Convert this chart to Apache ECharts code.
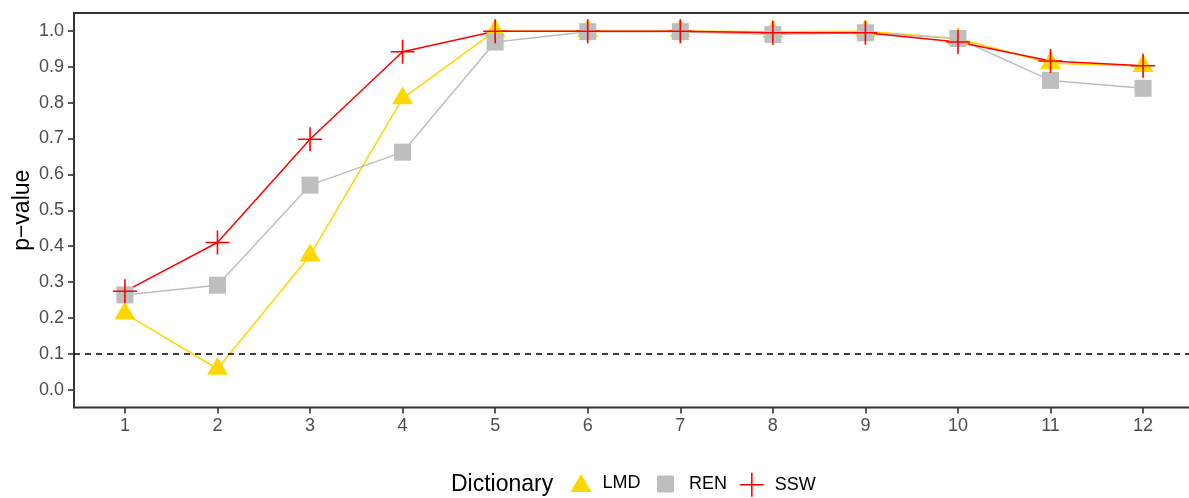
<!DOCTYPE html>
<html>
<head>
<meta charset="utf-8">
<script src="https://cdn.jsdelivr.net/npm/echarts@6/dist/echarts.min.js"></script>
<style>
  html, body { margin: 0; padding: 0; background: #ffffff; }
  #chart { width: 1189px; height: 498px; }
</style>
</head>
<body>
<div id="chart"></div>
<script>
// Number of dictionary words used (x positions)
const steps = [1, 2, 3, 4, 5, 6, 7, 8, 9, 10, 11, 12];

// p-values per dictionary
const lmd = [0.212, 0.058, 0.374, 0.812, 1.000, 1.000, 1.000, 0.998, 0.999, 0.979, 0.910, 0.902];
const ren = [0.264, 0.291, 0.570, 0.662, 0.969, 0.998, 0.998, 0.990, 0.995, 0.979, 0.862, 0.840];
const ssw = [0.274, 0.410, 0.698, 0.942, 0.999, 0.999, 0.999, 0.995, 0.995, 0.969, 0.916, 0.903];

// Axis ticks and the significance threshold
const yTicks = [0, 0.1, 0.2, 0.3, 0.4, 0.5, 0.6, 0.7, 0.8, 0.9, 1.0];
const xTicks = steps;
const threshold = 0.1;

const FONT = '"Liberation Sans", Arial, Helvetica, sans-serif';
const COLORS = { LMD: '#FFD700', REN: '#BEBEBE', SSW: '#FF0000' };
const PLUS = 'path://M0,12L24,12M12,0L12,24';

const pairs = vals => steps.map((s, i) => [s, vals[i]]);

function lineSeries(name, vals, extra) {
  return Object.assign({
    id: name + '-line',
    name: name + ' path',
    type: 'line',
    data: pairs(vals),
    showSymbol: false,
    symbol: 'none',
    z: 2,
    silent: true,
    lineStyle: { color: COLORS[name], width: 1.5 }
  }, extra || {});
}

const chart = echarts.init(document.getElementById('chart'), null, { renderer: 'canvas' });

chart.setOption({
  animation: false,
  backgroundColor: '#ffffff',
  textStyle: { fontFamily: FONT },
  grid: {
    left: 74, top: 13, width: 1120, height: 394.5,
    outerBoundsMode: 'none', containLabel: false,
    show: true, borderColor: '#333333', borderWidth: 2, backgroundColor: 'transparent'
  },
  xAxis: {
    type: 'value', min: 0.45, max: 12.55,
    splitLine: { show: false },
    axisLine: { show: false, onZero: false },
    axisTick: { show: true, customValues: xTicks, length: 6, lineStyle: { color: '#333333', width: 1.6 } },
    axisLabel: { customValues: xTicks, margin: 10, fontSize: 18, color: '#4D4D4D', fontFamily: FONT,
      formatter: v => String(v) }
  },
  yAxis: {
    type: 'value', min: -0.05, max: 1.05,
    name: 'p\u2212value', nameLocation: 'middle', nameRotate: 90, nameGap: 40,
    nameMoveOverlap: false,
    nameTextStyle: { fontSize: 23, color: '#000000', fontFamily: FONT },
    splitLine: { show: false },
    axisLine: { show: false, onZero: false },
    axisTick: { show: true, customValues: yTicks, length: 6, lineStyle: { color: '#333333', width: 1.6 } },
    axisLabel: { customValues: yTicks, margin: 10, fontSize: 18, color: '#4D4D4D', fontFamily: FONT,
      formatter: v => v.toFixed(1) }
  },
  legend: [
    {
      data: [{ name: 'LMD', icon: 'triangle' }], orient: 'horizontal', left: 570.5, top: 474, padding: 0,
      itemWidth: 21, itemHeight: 18, selectedMode: false,
      itemStyle: { color: COLORS.LMD, borderWidth: 0 },
      textStyle: { fontSize: 18, color: '#000000', fontFamily: FONT, padding: [0, 0, 0, 6] }
    },
    {
      data: [{ name: 'REN', icon: 'rect' }], orient: 'horizontal', left: 657, top: 475, padding: 0,
      itemWidth: 17, itemHeight: 17, selectedMode: false,
      itemStyle: { color: COLORS.REN, borderWidth: 0 },
      textStyle: { fontSize: 18, color: '#000000', fontFamily: FONT, padding: [0, 0, 0, 10] }
    },
    {
      data: [{ name: 'SSW', icon: PLUS }], orient: 'horizontal', left: 739, top: 472, padding: 0,
      itemWidth: 24, itemHeight: 24, selectedMode: false,
      itemStyle: { color: 'transparent', borderColor: COLORS.SSW, borderWidth: 1.6 },
      textStyle: { fontSize: 18, color: '#000000', fontFamily: FONT, padding: [0, 0, 0, 6] }
    }
  ],
  graphic: [
    {
      type: 'text', left: 451, top: 473, silent: true,
      style: { text: 'Dictionary', fontSize: 23, fill: '#000000', fontFamily: FONT }
    }
  ],
  series: [
    lineSeries('LMD', lmd, {
      markLine: {
        silent: true, symbol: ['none', 'none'], label: { show: false },
        lineStyle: { color: '#000000', type: [6, 5], width: 1.5 },
        data: [{ yAxis: threshold }]
      }
    }),
    lineSeries('REN', ren),
    lineSeries('SSW', ssw),
    {
      name: 'LMD', type: 'scatter', data: pairs(lmd), z: 3,
      symbol: 'triangle', symbolSize: [21, 18], symbolOffset: [0, -3],
      itemStyle: { color: COLORS.LMD, opacity: 1 }
    },
    {
      name: 'REN', type: 'scatter', data: pairs(ren), z: 3,
      symbol: 'rect', symbolSize: 17,
      itemStyle: { color: COLORS.REN, opacity: 1 }
    },
    {
      name: 'SSW', type: 'scatter', data: pairs(ssw), z: 3,
      symbol: PLUS, symbolSize: 24,
      itemStyle: { color: 'transparent', borderColor: COLORS.SSW, borderWidth: 1.6, opacity: 1 }
    }
  ]
});
</script>
</body>
</html>
